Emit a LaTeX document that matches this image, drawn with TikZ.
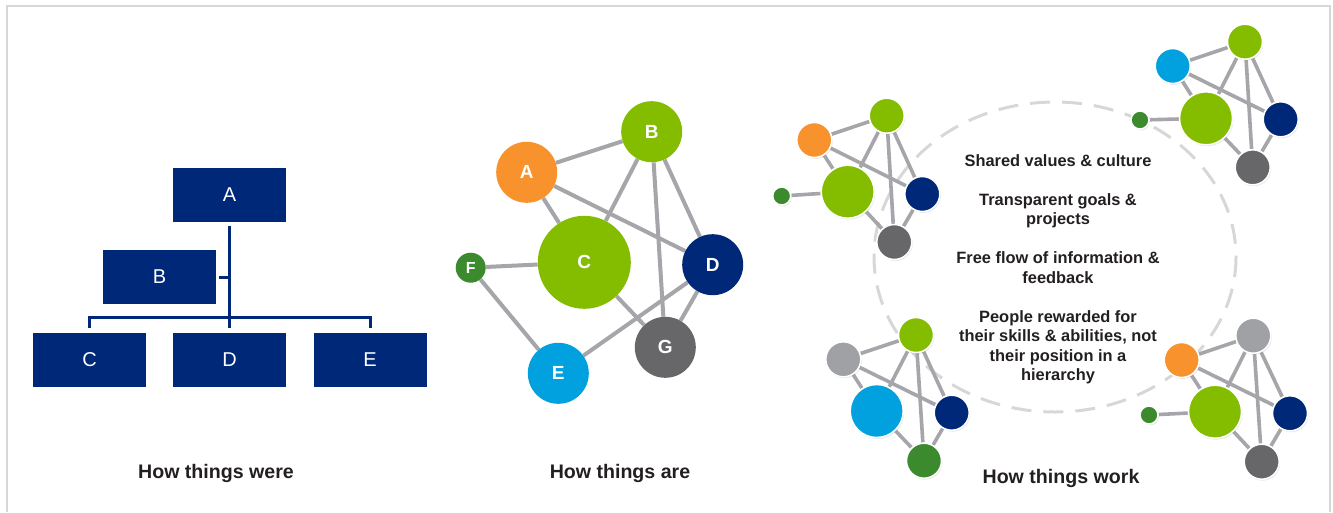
\documentclass[tikz,border=0pt]{standalone}
\usepackage{fontspec}
\setmainfont{Liberation Sans}
\usetikzlibrary{backgrounds,shadows}
\definecolor{orgblue}{RGB}{0,40,120}
\definecolor{leafgreen}{RGB}{132,189,0}
\definecolor{mossgreen}{RGB}{60,138,46}
\definecolor{amber}{RGB}{247,146,45}
\definecolor{skyblue}{RGB}{0,161,222}
\definecolor{slate}{RGB}{103,103,105}
\definecolor{ash}{RGB}{160,161,165}
\definecolor{linkgrey}{RGB}{165,165,170}
\definecolor{ringgrey}{RGB}{215,215,215}
\definecolor{inkgrey}{RGB}{35,31,32}

\begin{document}
\begin{tikzpicture}[x=1pt,y=-1pt,
    unit/.style={fill=orgblue,text=white,minimum width=113pt,minimum height=54pt,inner sep=0pt,font=\fontsize{20}{22}\selectfont},
    branch/.style={draw=orgblue,line width=3pt},
    member/.style={circle,inner sep=0pt,text=white,font=\bfseries\fontsize{19}{20}\selectfont},
    link/.style={draw=linkgrey,line width=4pt},
    peer/.style={circle,inner sep=0pt,draw=white,line width=1.5pt,drop shadow={opacity=0.18,shadow xshift=1pt,shadow yshift=-1.5pt}},
    tie/.style={draw=linkgrey,line width=3.6pt},
    caption/.style={font=\bfseries\fontsize{19.6}{22}\selectfont,text=inkgrey},
    rim/.style={draw=ringgrey,line width=2pt}]
\useasboundingbox (0,0) rectangle (1333,512);
\draw[rim] (6.7,512) -- (6.7,6) -- (1330,6) -- (1330,512);

% how things were
\node[unit] (oA) at (229.5,194.5) {A};
\node[unit] (oB) at (159.5,277) {B};
\node[unit] (oC) at (89.5,360) {C};
\node[unit] (oD) at (229.5,360) {D};
\node[unit] (oE) at (370,360) {E};
\draw[branch] ([yshift=-4pt]oA.south) -- ([yshift=5pt]oD.north);
\draw[branch] ([yshift=5pt]oC.north) |- ([yshift=15pt]oD.north) -| ([yshift=5pt]oE.north);
\draw[branch] ([xshift=3pt]oB.east) -- (oB.east -| oA.south);

% how things are
\node[member,fill=amber,minimum size=61pt] (nA) at (526.7,172.3) {A};
\node[member,fill=leafgreen,minimum size=61pt] (nB) at (651.7,131.7) {B};
\node[member,fill=leafgreen,minimum size=93pt] (nC) at (584.3,262.3) {C};
\node[member,fill=orgblue,minimum size=61pt] (nD) at (712.7,264.7) {D};
\node[member,fill=skyblue,minimum size=61pt] (nE) at (558.3,373.3) {E};
\node[member,fill=mossgreen,minimum size=30pt,font=\bfseries\fontsize{16}{17}\selectfont] (nF) at (470.7,267.7) {F};
\node[member,fill=slate,minimum size=61pt] (nG) at (665.3,347.3) {G};

% how things work
\node[peer,fill=amber,minimum size=35pt] (p1a) at (814.3,140) {};
\node[peer,fill=leafgreen,minimum size=35pt] (p1b) at (886.7,115.7) {};
\node[peer,fill=leafgreen,minimum size=53pt] (p1c) at (847.7,191.7) {};
\node[peer,fill=orgblue,minimum size=35pt] (p1d) at (922.3,194) {};
\node[peer,fill=mossgreen,minimum size=18pt] (p1f) at (781.7,196) {};
\node[peer,fill=slate,minimum size=35pt] (p1g) at (894.3,242) {};

\node[peer,fill=skyblue,minimum size=35pt] (p2a) at (1172.7,66) {};
\node[peer,fill=leafgreen,minimum size=35pt] (p2b) at (1245,41.7) {};
\node[peer,fill=leafgreen,minimum size=53pt] (p2c) at (1206,118.3) {};
\node[peer,fill=orgblue,minimum size=35pt] (p2d) at (1280.7,119.3) {};
\node[peer,fill=mossgreen,minimum size=18pt] (p2f) at (1140,120) {};
\node[peer,fill=slate,minimum size=35pt] (p2g) at (1252.7,167.3) {};

\node[peer,fill=ash,minimum size=35pt] (p3a) at (843.3,359.3) {};
\node[peer,fill=leafgreen,minimum size=35pt] (p3b) at (916,335) {};
\node[peer,fill=skyblue,minimum size=53pt] (p3c) at (876.7,411) {};
\node[peer,fill=orgblue,minimum size=35pt] (p3d) at (951.7,412.7) {};
\node[peer,fill=mossgreen,minimum size=35pt] (p3g) at (924,460.7) {};

\node[peer,fill=amber,minimum size=35pt] (p4a) at (1181.7,360) {};
\node[peer,fill=ash,minimum size=35pt] (p4b) at (1253.3,335.7) {};
\node[peer,fill=leafgreen,minimum size=53pt] (p4c) at (1215,411.7) {};
\node[peer,fill=orgblue,minimum size=35pt] (p4d) at (1290,413.3) {};
\node[peer,fill=mossgreen,minimum size=18pt] (p4f) at (1149,415) {};
\node[peer,fill=slate,minimum size=35pt] (p4g) at (1261.7,461.7) {};

\node[align=center,text=inkgrey,font=\bfseries\fontsize{16.4}{19.5}\selectfont] (values) at (1058,269.5)
  {Shared values \& culture\\[19.5pt]
   Transparent goals \&\\ projects\\[19.5pt]
   Free flow of information \&\\ feedback\\[19.5pt]
   People rewarded for\\ their skills \& abilities, not\\ their position in a\\ hierarchy};

\begin{scope}[on background layer]
  \draw[ringgrey,line width=3pt,dash pattern=on 20pt off 12pt] (1055,257) ellipse [x radius=181, y radius=155];
  \foreach \u/\v in {A/B,A/C,A/D,B/C,B/D,B/G,C/F,C/G,D/G,D/E,E/F}
    \draw[link] (n\u) -- (n\v);
  \foreach \k in {1,2,4}
    \foreach \u/\v in {a/b,a/c,a/d,b/c,b/d,b/g,c/f,c/g,d/g}
      \draw[tie] (p\k\u) -- (p\k\v);
  \foreach \u/\v in {a/b,a/c,a/d,b/c,b/d,b/g,c/g,d/g}
    \draw[tie] (p3\u) -- (p3\v);
\end{scope}

\node[caption] (were) at (216,473) {How things were};
\node[caption] (are) at (620,473) {How things are};
\node[caption] (work) at (1061,478) {How things work};
\end{tikzpicture}
\end{document}
